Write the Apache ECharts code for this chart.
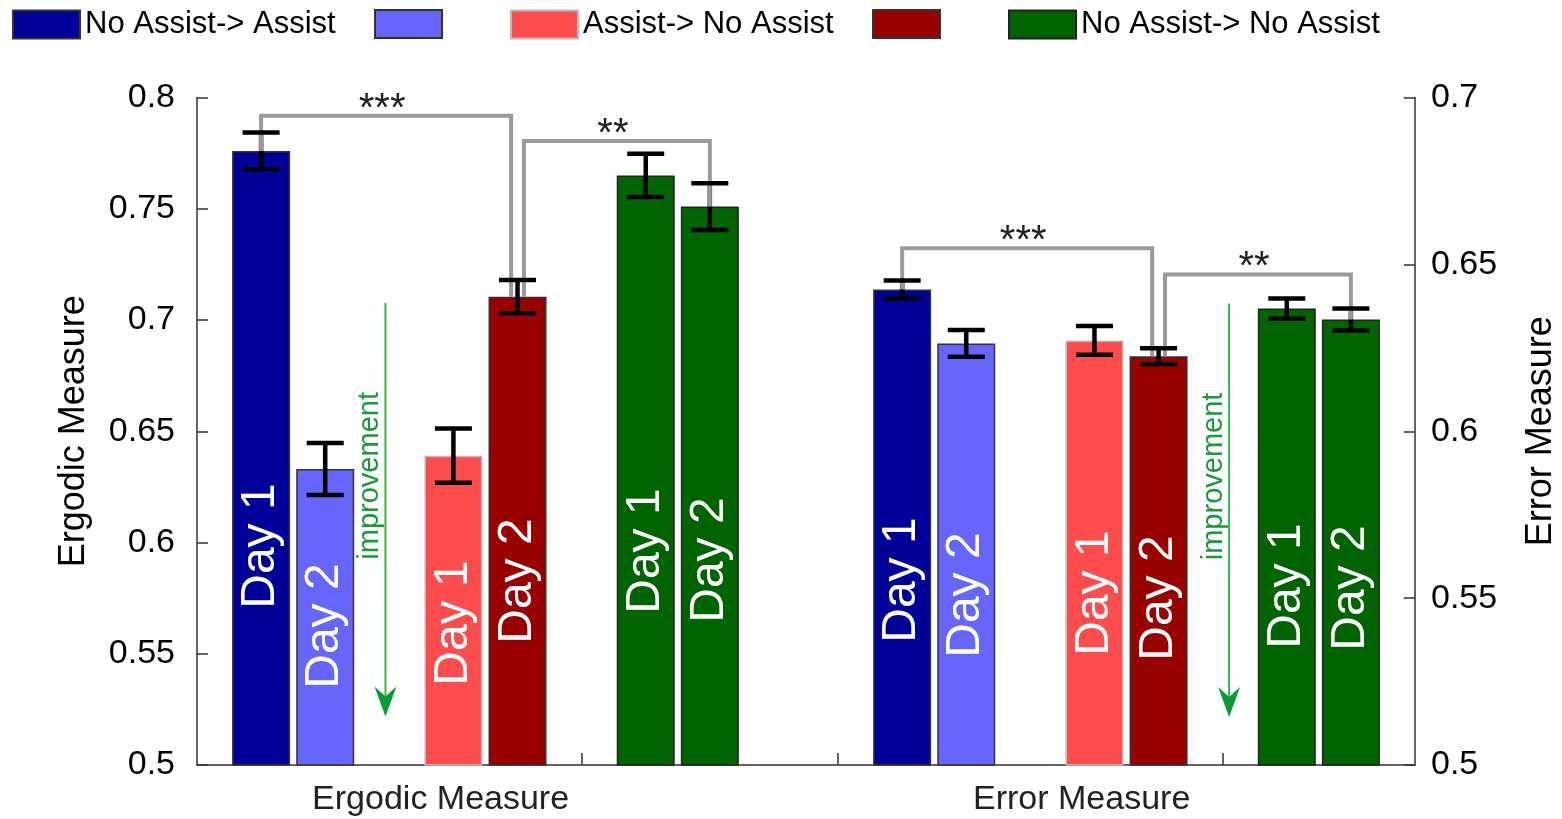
<!DOCTYPE html>
<html>
<head>
<meta charset="utf-8">
<script src="https://cdn.jsdelivr.net/npm/echarts@6/dist/echarts.min.js"></script>
<style>
  html, body { margin: 0; padding: 0; background: #fff; }
  #chart { width: 1562px; height: 819px; }
</style>
</head>
<body>
<div id="chart"></div>
<script>
// ---------- data ----------
const groups = ['Ergodic Measure', 'Error Measure'];
const conditions = ['No Assist-> Assist', 'Assist-> No Assist', 'No Assist-> No Assist'];
const days = ['Day 1', 'Day 2'];

// bar order: [NA->A D1, NA->A D2, A->NA D1, A->NA D2, NA->NA D1, NA->NA D2]
const ergodicMean = [0.776, 0.633, 0.639, 0.7105, 0.765, 0.751];
const ergodicErr  = [0.0083, 0.0117, 0.0122, 0.0075, 0.0097, 0.0105];
const errorMean   = [0.6425, 0.6263, 0.6272, 0.6225, 0.6368, 0.6335];
const errorErr    = [0.0027, 0.0040, 0.0043, 0.0024, 0.0030, 0.0033];

// significance brackets: [from bar, to bar, bracket height]
const ergodicBrackets = [[0, 3, 0.7918], [3, 5, 0.7805]];
const errorBrackets   = [[0, 3, 0.6548], [3, 5, 0.6470]];
const bracketMarks    = ['***', '**'];

// "improvement" arrows: [x, top value, tip value]
const ergodicArrow = [1.94, 0.7077, 0.5218];
const errorArrow   = [15.1, 0.6383, 0.5144];

// axis ticks
const leftTicks  = ['0.5', '0.55', '0.6', '0.65', '0.7', '0.75', '0.8'];
const rightTicks = ['0.5', '0.55', '0.6', '0.65', '0.7'];
const groupDividers = [5, 9, 15];
const groupLabelPos = [2.8, 12.8];

// ---------- styling ----------
const FONT = 'Liberation Sans, Arial, sans-serif';
const seriesNames = [
  'No Assist-> Assist', 'No Assist-> Assist, Day 2',
  'Assist-> No Assist', 'Assist-> No Assist, Day 2',
  'No Assist-> No Assist'
];
const seriesColors  = ['#000099', '#6666ff', '#ff4d4d', '#990000', '#006400'];
const seriesBorders = ['#333', '#333', '#bbb', '#333', '#222'];
const legendLeft    = [12, 374, 510, 872, 1008];
const legendText    = [true, false, true, false, true];
// distance (px) from bar base to the start of its rotated day label
const dayLabelLift = [[157, 77, 80, 122, 152, 143], [123, 108, 110, 105, 117, 115]];

function slotX(g, i) { return g * 10 + Math.floor(i / 2) * 3 + (i % 2); }
function seriesOf(i) { return i < 4 ? i : 4; }

const means = [ergodicMean, errorMean];
const errs = [ergodicErr, errorErr];
const brackets = [ergodicBrackets, errorBrackets];
const arrows = [ergodicArrow, errorArrow];

const series = [];

// bars
for (let g = 0; g < 2; g++) {
  for (let s = 0; s < seriesNames.length; s++) {
    const data = [];
    for (let i = 0; i < 6; i++) {
      if (seriesOf(i) !== s) continue;
      data.push({
        name: days[i % 2],
        value: [slotX(g, i), means[g][i]],
        label: { distance: dayLabelLift[g][i] }
      });
    }
    series.push({
      type: 'bar', name: seriesNames[s], xAxisIndex: 0, yAxisIndex: g,
      barWidth: 58, barGap: '-100%', z: 2,
      itemStyle: { color: seriesColors[s], borderColor: seriesBorders[s], borderWidth: 1.5 },
      label: {
        show: true, position: 'insideBottom', rotate: 90, align: 'left', verticalAlign: 'middle',
        formatter: '{b}', color: '#fff', fontSize: 48, fontFamily: FONT
      },
      emphasis: { disabled: true },
      data
    });
  }
}

for (let g = 0; g < 2; g++) {
  const ebData = means[g].map((m, i) => [slotX(g, i), m - errs[g][i], m + errs[g][i]]);
  // error bar stems
  series.push({
    type: 'custom', yAxisIndex: g, z: 3, silent: true,
    encode: { x: 0, y: [1, 2] },
    renderItem(params, api) {
      const x = api.value(0);
      const a = api.coord([x, api.value(2)]), b = api.coord([x, api.value(1)]);
      return { type: 'line', shape: { x1: a[0], y1: a[1], x2: b[0], y2: b[1] },
               style: { stroke: '#000', lineWidth: 4.5 } };
    },
    data: ebData
  });
  // error bar caps
  series.push({
    type: 'custom', yAxisIndex: g, z: 5, silent: true,
    encode: { x: 0, y: [1, 2] },
    renderItem(params, api) {
      const x = api.value(0);
      const a = api.coord([x, api.value(2)]), b = api.coord([x, api.value(1)]);
      const hw = 18.5;
      return { type: 'group', children: [
        { type: 'line', shape: { x1: a[0] - hw, y1: a[1], x2: a[0] + hw, y2: a[1] }, style: { stroke: '#000', lineWidth: 4.5 } },
        { type: 'line', shape: { x1: b[0] - hw, y1: b[1], x2: b[0] + hw, y2: b[1] }, style: { stroke: '#000', lineWidth: 4.5 } }
      ] };
    },
    data: ebData
  });

  // significance brackets
  const br = brackets[g];
  const brData = br.map(([f, t, h]) => {
    const fShift = br.some(o => o[1] === f) ? 0.1 : 0;
    const tShift = br.some(o => o[0] === t) ? -0.1 : 0;
    return [slotX(g, f) + fShift, means[g][f], slotX(g, t) + tShift, means[g][t], h];
  });
  series.push({
    type: 'custom', yAxisIndex: g, z: 4, silent: true,
    encode: { x: [0, 2], y: [1, 3, 4] },
    renderItem(params, api) {
      const p1 = api.coord([api.value(0), api.value(1)]);
      const p2 = api.coord([api.value(2), api.value(3)]);
      const lv = api.coord([api.value(0), api.value(4)])[1];
      return { type: 'group', children: [
        { type: 'polyline',
          shape: { points: [[p1[0], p1[1]], [p1[0], lv], [p2[0], lv], [p2[0], p2[1]]] },
          style: { stroke: '#9a9a9a', lineWidth: 4, fill: null } },
        { type: 'text',
          style: { text: bracketMarks[params.dataIndex], x: (p1[0] + p2[0]) / 2 - 4, y: lv - 6,
                   align: 'center', verticalAlign: 'middle', font: '40px ' + FONT, fill: '#222' } }
      ] };
    },
    data: brData
  });

  // improvement arrow
  series.push({
    type: 'custom', yAxisIndex: g, z: 4, silent: true,
    encode: { x: 0, y: [1, 2] },
    renderItem(params, api) {
      const top = api.coord([api.value(0), api.value(1)]);
      const tip = api.coord([api.value(0), api.value(2)]);
      const x = top[0];
      return { type: 'group', children: [
        { type: 'line', shape: { x1: x, y1: top[1], x2: x, y2: tip[1] - 10 },
          style: { stroke: '#3cb44b', lineWidth: 2 } },
        { type: 'polygon',
          shape: { points: [[x, tip[1]], [x - 11, tip[1] - 30], [x, tip[1] - 20], [x + 11, tip[1] - 30]] },
          style: { fill: '#0a9a35' } },
        { type: 'text', x: x - 15, y: top[1] + 173, rotation: Math.PI / 2,
          style: { text: 'improvement', x: 0, y: 0, align: 'center', verticalAlign: 'middle',
                   font: '29px ' + FONT, fill: '#1a9a3a' } }
      ] };
    },
    data: [arrows[g]]
  });
}

const legends = seriesNames.map((n, k) => ({
  data: [n], left: legendLeft[k], top: 9, padding: 0,
  icon: 'rect', itemWidth: 67, itemHeight: 28, selectedMode: false,
  textStyle: { fontSize: 31, fontFamily: FONT, color: '#000' },
  formatter: legendText[k] ? '{name}' : () => ''
}));

const axisLineStyle = { color: '#333', width: 1.5 };

const option = {
  animation: false,
  backgroundColor: '#fff',
  grid: { left: 197, right: 147, top: 97.5, bottom: 54, outerBoundsMode: 'none', containLabel: false },
  legend: legends,
  xAxis: {
    type: 'value', min: -1, max: 18,
    splitLine: { show: false },
    axisLine: { show: true, onZero: false, lineStyle: axisLineStyle },
    axisTick: { show: true, inside: true, length: 12, customValues: groupDividers, lineStyle: axisLineStyle },
    axisLabel: {
      show: true, customValues: groupLabelPos, margin: 18,
      formatter: v => groups[groupLabelPos.indexOf(v)] || '',
      fontSize: 34, fontFamily: FONT, color: '#222'
    }
  },
  yAxis: [
    {
      type: 'value', min: 0.5, max: 0.8, interval: 0.05, position: 'left',
      name: 'Ergodic Measure', nameLocation: 'middle', nameRotate: 90, nameGap: 105,
      nameTextStyle: { fontSize: 36, fontFamily: FONT, color: '#000' },
      splitLine: { show: false },
      axisLine: { show: true, onZero: false, lineStyle: axisLineStyle },
      axisTick: { show: true, inside: true, length: 11, lineStyle: axisLineStyle },
      axisLabel: {
        margin: 22, fontSize: 34, fontFamily: FONT, color: '#000',
        formatter: v => leftTicks[Math.round((v - 0.5) / 0.05)]
      }
    },
    {
      type: 'value', min: 0.5, max: 0.7, interval: 0.05, position: 'right',
      name: 'Error Measure', nameLocation: 'middle', nameRotate: 90, nameGap: 108,
      nameTextStyle: { fontSize: 36, fontFamily: FONT, color: '#000' },
      splitLine: { show: false },
      axisLine: { show: true, onZero: false, lineStyle: axisLineStyle },
      axisTick: { show: true, inside: true, length: 11, lineStyle: axisLineStyle },
      axisLabel: {
        margin: 16, fontSize: 34, fontFamily: FONT, color: '#000',
        formatter: v => rightTicks[Math.round((v - 0.5) / 0.05)]
      }
    }
  ],
  series
};

const chart = echarts.init(document.getElementById('chart'), null, { renderer: 'canvas' });
chart.setOption(option);
</script>
</body>
</html>
